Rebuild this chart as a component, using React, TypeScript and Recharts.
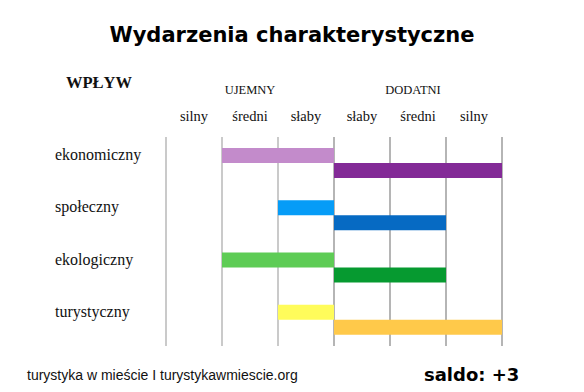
import React from "react";
import { BarChart, Bar, XAxis, YAxis, CartesianGrid, Cell } from "recharts";

const categories = ["ekonomiczny", "społeczny", "ekologiczny", "turystyczny"];
const negativeValues = [-2, -1, -2, -1];
const positiveValues = [3, 2, 2, 3];
const negativeColors = ["#C38BCB", "#069CF7", "#5ECC55", "#FFFC5A"];
const positiveColors = ["#832A97", "#066AC3", "#069A30", "#FFC94A"];

const scaleTicks = [-2.5, -1.5, -0.5, 0.5, 1.5, 2.5];
const scaleLabels = ["silny", "średni", "słaby", "słaby", "średni", "silny"];
const groupTicks = [-1.5, 1.5];
const groupLabels = ["UJEMNY", "DODATNI"];
const negGridValues = [-3, -2, -1];
const posGridValues = [0, 1, 2, 3];

const data = categories.map((name, i) => ({
  name,
  neg: negativeValues[i],
  pos: positiveValues[i],
}));

const serif = "'Liberation Serif', 'Times New Roman', serif";

const ScaleTick = (props: any) => {
  const { x, y, index, payload } = props;
  const g = groupTicks.indexOf(payload.value);
  return (
    <g>
      <text x={x} y={y - 8} textAnchor="middle" fontFamily={serif} fontSize={14.5} fill="#111">
        {scaleLabels[index]}
      </text>
      {g >= 0 ? (
        <text x={x + (g === 1 ? -5 : 0)} y={y - 35} textAnchor="middle" fontFamily={serif} fontSize={12.5} fill="#111">
          {groupLabels[g]}
        </text>
      ) : null}
    </g>
  );
};

const CatTick = (props: any) => {
  const { y, payload } = props;
  return (
    <text x={55} y={y - 3} textAnchor="start" fontFamily={serif} fontSize={16} fill="#111">
      {payload.value}
    </text>
  );
};

export default function App() {
  return (
    <div style={{ position: "absolute", left: 0, top: 0, width: 584, height: 392, background: "#fff" }}>
      <div
        style={{
          position: "absolute",
          left: 0,
          width: 584,
          top: 23,
          textAlign: "center",
          fontFamily: "'DejaVu Sans', Verdana, sans-serif",
          fontWeight: "bold",
          fontSize: 21,
          color: "#000",
        }}
      >
        Wydarzenia charakterystyczne
      </div>
      <div
        style={{
          position: "absolute",
          left: 66,
          top: 73,
          fontFamily: serif,
          fontWeight: "bold",
          fontSize: 16.5,
          color: "#111",
        }}
      >
        WPŁYW
      </div>
      <BarChart
        width={584}
        height={392}
        data={data}
        layout="vertical"
        margin={{ top: 67, right: 82, bottom: 46, left: 0 }}
        barGap={0}
        barSize={15}
      >
        <CartesianGrid horizontal={false} verticalValues={negGridValues} stroke="#cacaca" strokeWidth={2} />
        <CartesianGrid horizontal={false} verticalValues={posGridValues} stroke="#9c9c9c" strokeWidth={1.5} />
        <XAxis
          type="number"
          domain={[-3, 3]}
          orientation="top"
          ticks={scaleTicks}
          axisLine={false}
          tickLine={false}
          height={70}
          tick={<ScaleTick />}
          interval={0}
        />
        <YAxis type="category" dataKey="name" width={166} axisLine={false} tickLine={false} tick={<CatTick />} />
        <Bar dataKey="neg" isAnimationActive={false}>
          {data.map((d, i) => (
            <Cell key={"n" + i} fill={negativeColors[i]} />
          ))}
        </Bar>
        <Bar dataKey="pos" isAnimationActive={false}>
          {data.map((d, i) => (
            <Cell key={"p" + i} fill={positiveColors[i]} />
          ))}
        </Bar>
      </BarChart>
      <div
        style={{
          position: "absolute",
          left: 27,
          top: 367,
          fontFamily: "'Liberation Sans', Arial, sans-serif",
          fontSize: 14,
          color: "#111",
        }}
      >
        turystyka w mieście I turystykawmiescie.org
      </div>
      <div
        style={{
          position: "absolute",
          left: 424,
          top: 364,
          fontFamily: "'DejaVu Sans', Verdana, sans-serif",
          fontWeight: "bold",
          fontSize: 18,
          color: "#000",
        }}
      >
        saldo: +3
      </div>
    </div>
  );
}
